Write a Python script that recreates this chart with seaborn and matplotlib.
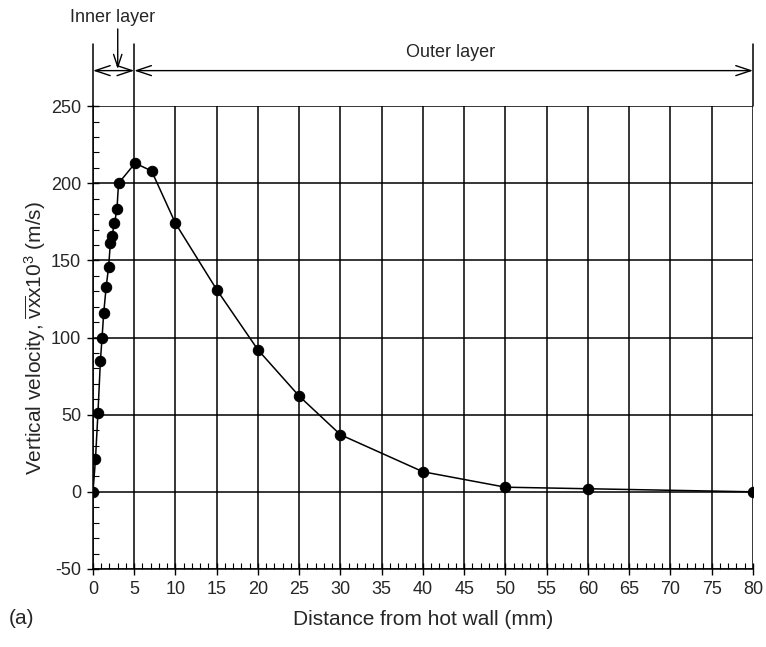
import seaborn as sns
import matplotlib.pyplot as plt
from matplotlib.ticker import MultipleLocator

sns.set_style('white')
plt.rcParams['font.family'] = ['Liberation Sans', 'DejaVu Sans']
plt.rcParams['mathtext.fontset'] = 'custom'
plt.rcParams['mathtext.rm'] = 'Liberation Sans'
plt.rcParams['mathtext.it'] = 'Liberation Sans'
plt.rcParams['axes.unicode_minus'] = False

# data
distance = [0, 0.3, 0.6, 0.9, 1.1, 1.3, 1.6, 1.9, 2.1, 2.3, 2.6, 2.9, 3.1,
            5.1, 7.1, 10, 15, 20, 25, 30, 40, 50, 60, 80]
velocity = [0, 21, 51, 85, 100, 116, 133, 146, 161, 166, 174, 183, 200,
            213, 208, 174, 131, 92, 62, 37, 13, 3, 2, 0]

fig = plt.figure(figsize=(7.66, 6.47), dpi=100)
ax = fig.add_axes([0.1214, 0.1206, 0.8616, 0.7154])

sns.lineplot(x=distance, y=velocity, color='black', linewidth=1.1,
             marker='o', markersize=7.5, markeredgecolor='black', ax=ax)

ax.set_xlim(0, 80)
ax.set_ylim(-50, 250)
ax.xaxis.set_major_locator(MultipleLocator(5))
ax.xaxis.set_minor_locator(MultipleLocator(1))
ax.yaxis.set_major_locator(MultipleLocator(50))
ax.yaxis.set_minor_locator(MultipleLocator(10))
ax.tick_params(which='major', direction='inout', length=9, width=1,
               color='black', labelsize=13, pad=4)
ax.tick_params(which='minor', direction='in', length=4, width=0.8, color='black')
ax.tick_params(axis='x', which='both', bottom=True, top=False)
ax.tick_params(axis='y', which='both', left=True, right=False)

ax.grid(True, which='major', color='black', linewidth=1.1)
for s in ['top', 'right']:
    ax.spines[s].set_visible(False)
for s in ['left', 'bottom']:
    ax.spines[s].set_color('black')
    ax.spines[s].set_linewidth(1.1)

ax.set_xlabel('Distance from hot wall (mm)', fontsize=15, labelpad=9)
ax.set_ylabel(r'Vertical velocity, $\overline{\mathrm{vx}}$x10$^3$ (m/s)',
              fontsize=15, labelpad=2)
fig.text(0.012, 0.035, '(a)', fontsize=15)

# layer markers above the plot
for xv in [0, 5, 80]:
    ax.plot([xv, xv], [250, 290], color='black', lw=1.1, clip_on=False)

arr = dict(arrowstyle='<->,head_length=0.9,head_width=0.3', color='black',
           lw=1, mutation_scale=12, shrinkA=0, shrinkB=0)
ax.annotate('', xy=(0, 273), xytext=(5, 273), arrowprops=arr, annotation_clip=False)
ax.annotate('', xy=(5, 273), xytext=(80, 273), arrowprops=arr, annotation_clip=False)
ax.text(43.3, 279, 'Outer layer', ha='center', va='bottom', fontsize=13)
ax.text(2.4, 302, 'Inner layer', ha='center', va='bottom', fontsize=13)
ax.annotate('', xy=(3.0, 274), xytext=(3.0, 300), annotation_clip=False,
            arrowprops=dict(arrowstyle='->,head_length=0.9,head_width=0.3',
                            color='black', lw=1, mutation_scale=10,
                            shrinkA=0, shrinkB=0))

fig.savefig('out.png', dpi=100)
